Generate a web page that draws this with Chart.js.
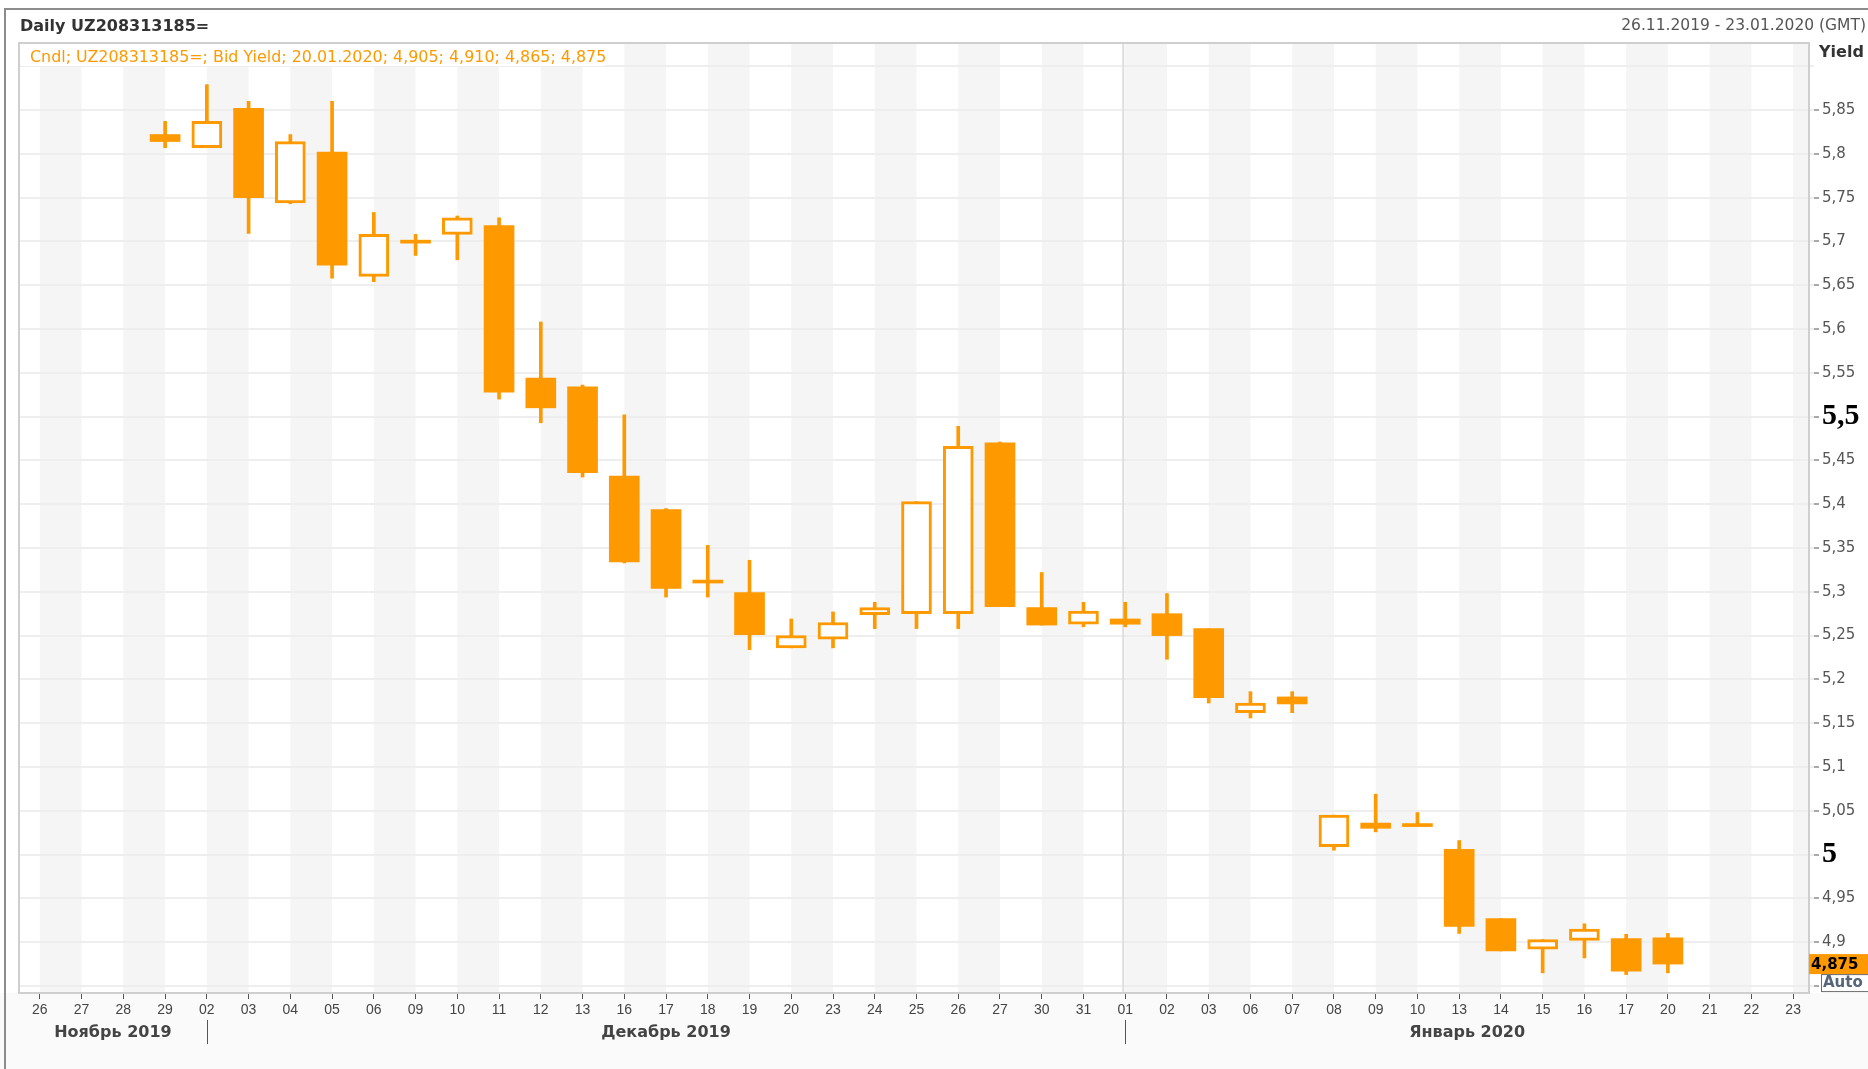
<!DOCTYPE html>
<html><head><meta charset="utf-8">
<script src="https://cdn.jsdelivr.net/npm/chart.js@4.4.1/dist/chart.umd.min.js"></script>
<style>
html,body{margin:0;padding:0;background:#fff;}
#wrap{position:relative;width:1868px;height:1069px;overflow:hidden;background:#fff;font-family:"DejaVu Sans",sans-serif;}
#c{position:absolute;left:0;top:0;}
.t{position:absolute;white-space:nowrap;line-height:1;}
#frame{position:absolute;left:4px;top:8px;width:1880px;height:1080px;border-top:2px solid #8c8c8c;border-left:2px solid #8c8c8c;pointer-events:none;}
</style></head>
<body><div id="wrap">
<canvas id="c" width="1868" height="1069"></canvas>
<div id="frame"></div>
<div class="t" style="left:20px;top:18px;font-size:16px;font-weight:bold;color:#333">Daily UZ208313185=</div>
<div class="t" style="right:2px;top:18px;font-size:15.5px;color:#555">26.11.2019 - 23.01.2020 (GMT)</div>
<div class="t" id="legend" style="left:21px;top:44px;width:584px;height:22px;box-sizing:border-box;padding:5px 0 0 9px;background:#fff;font-size:15.9px;color:#ff9900"></div>
<div class="t" style="left:1819px;top:44px;font-size:16px;font-weight:bold;color:#333">Yield</div>
</div>
<script>
// ---- data ----
const categories = ['26','27','28','29','02','03','04','05','06','09','10','11','12','13','16','17','18','19','20','23','24','25','26','27','30','31','01','02','03','06','07','08','09','10','13','14','15','16','17','20','21','22','23'];
const dates = ['26.11.2019','27.11.2019','28.11.2019','29.11.2019','02.12.2019','03.12.2019','04.12.2019','05.12.2019','06.12.2019','09.12.2019','10.12.2019','11.12.2019','12.12.2019','13.12.2019','16.12.2019','17.12.2019','18.12.2019','19.12.2019','20.12.2019','23.12.2019','24.12.2019','25.12.2019','26.12.2019','27.12.2019','30.12.2019','31.12.2019','01.01.2020','02.01.2020','03.01.2020','06.01.2020','07.01.2020','08.01.2020','09.01.2020','10.01.2020','13.01.2020','14.01.2020','15.01.2020','16.01.2020','17.01.2020','20.01.2020','21.01.2020','22.01.2020','23.01.2020'];
const openY  = [null,null,null,5.822,5.807,5.852,5.744,5.802,5.660,5.701,5.708,5.718,5.544,5.534,5.432,5.394,5.313,5.299,5.236,5.246,5.274,5.275,5.275,5.470,5.282,5.263,5.269,5.275,5.258,5.162,5.180,5.009,5.036,5.035,5.006,4.927,4.892,4.902,4.904,4.905,null,null,null];
const highY  = [null,null,null,5.837,5.879,5.860,5.822,5.860,5.733,5.708,5.729,5.727,5.608,5.536,5.502,5.395,5.353,5.336,5.269,5.277,5.288,5.403,5.489,5.471,5.322,5.288,5.288,5.298,5.258,5.186,5.186,5.045,5.069,5.048,5.016,4.927,4.903,4.921,4.909,4.910,null,null,null];
const lowY   = [null,null,null,5.807,5.807,5.709,5.743,5.658,5.654,5.684,5.679,5.520,5.493,5.431,5.333,5.294,5.294,5.234,5.236,5.236,5.258,5.258,5.258,5.283,5.262,5.260,5.260,5.223,5.173,5.156,5.162,5.005,5.026,5.032,4.910,4.890,4.865,4.882,4.863,4.865,null,null,null];
const closeY = [null,null,null,5.814,5.837,5.750,5.814,5.673,5.708,5.698,5.727,5.528,5.510,5.436,5.334,5.304,5.310,5.251,5.250,5.265,5.282,5.403,5.466,5.283,5.262,5.278,5.263,5.250,5.179,5.173,5.172,5.045,5.030,5.032,4.918,4.890,4.903,4.915,4.867,4.875,null,null,null];
const yTickValues = [4.85,4.9,4.95,5,5.05,5.1,5.15,5.2,5.25,5.3,5.35,5.4,5.45,5.5,5.55,5.6,5.65,5.7,5.75,5.8,5.85,5.9];
const yHiddenLabels = [4.85,5.9];
const yBoldLabels = [5,5.5];
const monthLabels = ['Ноябрь 2019','Декабрь 2019','Январь 2020'];
const monthStarts = [0,4,26];
const yMin = 4.842, yMax = 5.9265;

const ORANGE = '#ff9900';
const PLOT_RIGHT = 1809;
const fmt = (v,d) => (d==null ? String(Number(v.toFixed(3))) : v.toFixed(d)).replace('.', ',');
const lastIdx = closeY.reduce((m,c,i)=> c!=null ? i : m, -1);
document.getElementById('legend').textContent =
  'Cndl; UZ208313185=; Bid Yield; ' + dates[lastIdx] + '; ' +
  [openY[lastIdx],highY[lastIdx],lowY[lastIdx],closeY[lastIdx]].map(v=>fmt(v,3)).join('; ');

const bodyData = openY.map((o,i)=> o==null ? null : [o, closeY[i]]);
const wickData = lowY.map((l,i)=> l==null ? null : [l, highY[i]]);
const isUp = openY.map((o,i)=> o!=null && closeY[i] > o);

const near = (a,b)=> Math.abs(a-b) < 1e-6;
const isBold = ctx => !!(ctx && ctx.tick) && yBoldLabels.some(b => near(b, ctx.tick.value));
const isTop = ctx => !!(ctx && ctx.tick) && near(ctx.tick.value, yTickValues[yTickValues.length - 1]);

const deco = {
  id:'deco',
  beforeDraw(chart){
    const {ctx, chartArea:a, scales:{x}} = chart;
    ctx.save();
    ctx.fillStyle = '#fafafa';
    ctx.fillRect(0, a.bottom, chart.width, chart.height - a.bottom);
    ctx.fillStyle = '#ffffff';
    ctx.fillRect(a.left, a.top, PLOT_RIGHT - a.left, a.bottom - a.top);
    ctx.beginPath(); ctx.rect(a.left, a.top, PLOT_RIGHT - a.left, a.bottom - a.top); ctx.clip();
    ctx.fillStyle = '#f5f5f5';
    for (let i = 0; i < categories.length; i += 2) {
      const x0 = x.getPixelForValue(i), x1 = x.getPixelForValue(i + 1);
      ctx.fillRect(x0, a.top, x1 - x0, a.bottom - a.top);
    }
    ctx.restore();
  },
  beforeDatasetsDraw(chart){
    const {ctx, chartArea:a, scales:{x}} = chart;
    ctx.save();
    ctx.strokeStyle = '#dedede'; ctx.lineWidth = 2;
    const xs = x.getPixelForValue(monthStarts[2]) - 2;
    ctx.beginPath(); ctx.moveTo(xs, a.top); ctx.lineTo(xs, a.bottom); ctx.stroke();
    ctx.restore();
  },
  afterDraw(chart){
    const {ctx, chartArea:a, scales:{x,y}} = chart;
    ctx.save();
    ctx.strokeStyle = '#cfcfcf'; ctx.lineWidth = 2;
    ctx.strokeRect(a.left, a.top, PLOT_RIGHT - a.left, a.bottom - a.top);
    ctx.font = 'bold 16px "DejaVu Sans", sans-serif';
    ctx.textAlign = 'center'; ctx.textBaseline = 'middle';
    for (let m = 0; m < monthLabels.length; m++) {
      const s = m === 0 ? a.left : x.getPixelForValue(monthStarts[m]);
      const e = m + 1 < monthLabels.length ? x.getPixelForValue(monthStarts[m+1]) : PLOT_RIGHT;
      ctx.fillStyle = '#444';
      ctx.fillText(monthLabels[m], (s + e) / 2, a.bottom + 40);
      if (m > 0) {
        ctx.strokeStyle = '#555'; ctx.lineWidth = 1;
        ctx.beginPath(); ctx.moveTo(Math.round(s) + 0.5, a.bottom + 27); ctx.lineTo(Math.round(s) + 0.5, a.bottom + 51); ctx.stroke();
      }
    }
    const lastClose = closeY[lastIdx];
    const py = y.getPixelForValue(lastClose);
    ctx.fillStyle = ORANGE;
    ctx.fillRect(PLOT_RIGHT, py - 10, chart.width - PLOT_RIGHT, 20);
    ctx.fillStyle = '#000'; ctx.font = 'bold 15px "DejaVu Sans", sans-serif';
    ctx.textAlign = 'left';
    ctx.fillText(fmt(lastClose, 3), PLOT_RIGHT + 2, py + 1);
    ctx.fillStyle = '#ffffff';
    ctx.fillRect(PLOT_RIGHT + 12, py + 10, chart.width - PLOT_RIGHT - 12, 17);
    ctx.strokeStyle = '#6a6a6a'; ctx.lineWidth = 1;
    ctx.strokeRect(PLOT_RIGHT + 12.5, py + 10.5, chart.width - PLOT_RIGHT - 10, 17);
    ctx.fillStyle = '#56657a'; ctx.font = 'bold 15px "DejaVu Sans", sans-serif';
    ctx.fillText('Auto', PLOT_RIGHT + 14, py + 19.5);
    ctx.restore();
  }
};

new Chart(document.getElementById('c'), {
  type: 'bar',
  data: {
    labels: categories,
    datasets: [
      { data: bodyData, grouped: false, barThickness: 30, order: 0,
        backgroundColor: isUp.map(u => u ? '#ffffff' : ORANGE),
        borderColor: ORANGE, borderWidth: isUp.map(u => u ? 3 : 0),
        borderSkipped: false, minBarLength: 3 },
      { data: wickData, grouped: false, barThickness: 3, order: 1,
        backgroundColor: ORANGE, borderWidth: 0 }
    ]
  },
  options: {
    responsive: false, animation: false,
    layout: { padding: { left: 19, top: 43, right: 0, bottom: 0 } },
    plugins: { legend: { display: false }, tooltip: { enabled: false } },
    scales: {
      x: {
        type: 'category', offset: true,
        grid: { offset: false, drawOnChartArea: false, drawTicks: true, tickLength: 6, tickColor: '#555', tickWidth: 1 },
        border: { display: false },
        ticks: { autoSkip: false, maxRotation: 0, minRotation: 0, padding: 3, color: '#444',
                 font: { family: '"Liberation Sans", Arial, sans-serif', size: 14 } },
        afterFit(s) { s.height = 76; }
      },
      y: {
        position: 'right', min: yMin, max: yMax,
        afterBuildTicks(s) { s.ticks = yTickValues.map(v => ({ value: v })); },
        grid: { color: '#eeeeee', lineWidth: 2, drawTicks: true, tickLength: 5,
                tickColor: ctx => isTop(ctx) ? 'rgba(0,0,0,0)' : '#555', tickWidth: 1 },
        border: { display: false },
        ticks: {
          padding: 3,
          color: ctx => isBold(ctx) ? '#000' : '#555',
          font: ctx => isBold(ctx)
            ? { family: '"Liberation Serif", "Times New Roman", serif', size: 30, weight: 'bold' }
            : { family: '"DejaVu Sans", sans-serif', size: 15 },
          callback: v => yHiddenLabels.some(h => near(h, v)) ? '' : fmt(v)
        },
        afterFit(s) { s.width = 54; }
      }
    }
  },
  plugins: [deco]
});
</script>
</body></html>
